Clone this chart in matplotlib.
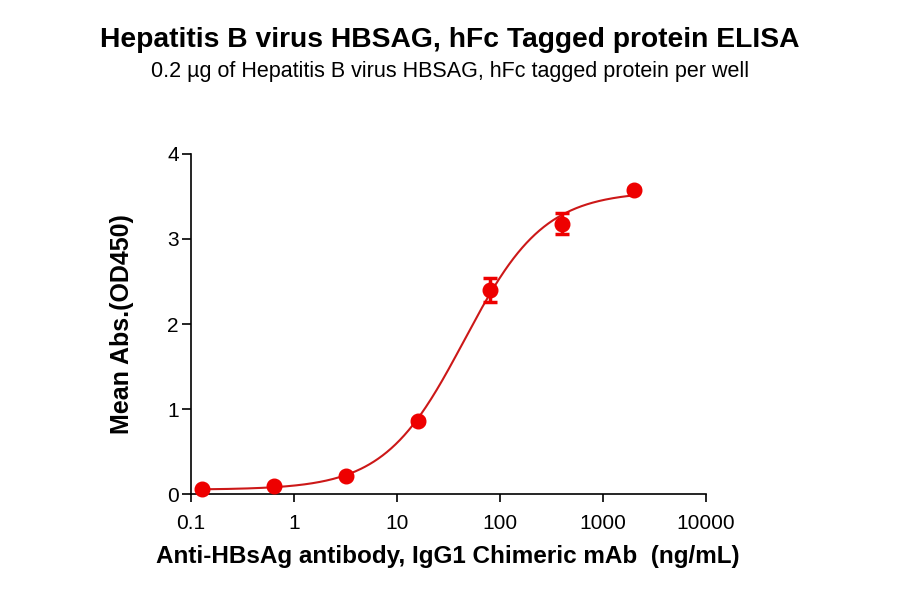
import numpy as np
import matplotlib
matplotlib.use("Agg")
import matplotlib.pyplot as plt
from matplotlib.ticker import FixedLocator, NullLocator

plt.rcParams['font.family'] = ['Liberation Sans', 'DejaVu Sans']

# Data
conc = [0.128, 0.64, 3.2, 16, 80, 400, 2000]
od_mean = [0.067, 0.098, 0.21, 0.86, 2.40, 3.18, 3.58]
od_err = [0.01, 0.01, 0.01, 0.02, 0.14, 0.12, 0.02]
x_ticks = [0.1, 1, 10, 100, 1000, 10000]
x_tick_labels = ["0.1", "1", "10", "100", "1000", "10000"]
y_ticks = [0, 1, 2, 3, 4]

title = "Hepatitis B virus HBSAG, hFc Tagged protein ELISA"
subtitle = "0.2 \u00b5g of Hepatitis B virus HBSAG, hFc tagged protein per well"
xlabel = "Anti-HBsAg antibody, IgG1 Chimeric mAb  (ng/mL)"
ylabel = "Mean Abs.(OD450)"

# 4-parameter logistic fit (grid search on EC50/hill, linear solve for bottom/top)
x = np.array(conc, dtype=float)
y = np.array(od_mean, dtype=float)
best = None
for lec in np.linspace(0.5, 2.5, 401):
    for h in np.linspace(0.5, 2.5, 201):
        g = 1.0 / (1.0 + (10**lec / x) ** h)
        A = np.column_stack([np.ones_like(g), g])
        coef, *_ = np.linalg.lstsq(A, y, rcond=None)
        r = np.sum((A @ coef - y) ** 2)
        if best is None or r < best[0]:
            best = (r, lec, h, coef)
_, lec, h, coef = best
xx = np.logspace(np.log10(min(conc)), np.log10(max(conc)), 400)
yy = coef[0] + coef[1] / (1.0 + (10**lec / xx) ** h)

fig = plt.figure(figsize=(9, 5.94), dpi=100)
ax = fig.add_axes([0.212, 0.168, 0.572, 0.573])

ax.plot(xx, yy, color='#CC1818', lw=1.5, zorder=2)
ax.errorbar(conc, od_mean, yerr=od_err, fmt='o', color='#EE0000', ms=10.5,
            capsize=5, capthick=2.5, elinewidth=2.5, zorder=3, clip_on=False)

ax.set_xscale('log')
ax.set_xlim(0.1, 10000)
ax.set_ylim(0, 4)
ax.xaxis.set_major_locator(FixedLocator(x_ticks))
ax.xaxis.set_minor_locator(NullLocator())
ax.set_xticklabels(x_tick_labels)
ax.set_yticks(y_ticks)
for s in ['top', 'right']:
    ax.spines[s].set_visible(False)
for s in ['left', 'bottom']:
    ax.spines[s].set_linewidth(1.2)
ax.tick_params(axis='x', length=6, width=1.2, labelsize=15, pad=8)
ax.tick_params(axis='y', length=6.5, width=1.2, labelsize=15, pad=2)

ax.set_xlabel(xlabel, fontsize=17.5, fontweight='bold', labelpad=9)
ax.set_ylabel(ylabel, fontsize=18, fontweight='bold', labelpad=24)

fig.text(0.5, 1 - 40 / 594, title, ha='center', va='center', fontsize=20.3, fontweight='bold')
fig.text(0.5, 1 - 71 / 594, subtitle, ha='center', va='center', fontsize=15.5)

fig.savefig('out.png', dpi=100)
